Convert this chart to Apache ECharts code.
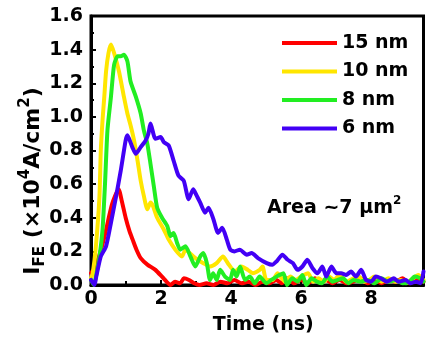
<!DOCTYPE html>
<html>
<head>
<meta charset="utf-8">
<script src="https://cdn.jsdelivr.net/npm/echarts@6/dist/echarts.min.js"></script>
<style>
html,body{margin:0;padding:0;background:#fff;}
#chart{width:436px;height:341px;}
</style>
</head>
<body>
<div id="chart"></div>
<script>
// Series names
var seriesNames = ['15 nm', '10 nm', '8 nm', '6 nm'];
// Tick labels
var xTicks = [0, 2, 4, 6, 8];
var yTicks = ['0.0','0.2','0.4','0.6','0.8','1.0','1.2','1.4','1.6'];

// [time (ns), I_FE (x10^4 A/cm^2)]
var red15 = [[0,0.07],[0.1,0.1],[0.23,0.17],[0.4,0.3],[0.6,0.48],[0.79,0.57],[0.88,0.5],[0.99,0.40],[1.1,0.32],[1.19,0.27],[1.3,0.21],[1.42,0.16],[1.62,0.12],[1.84,0.09],[2.07,0.04],[2.27,0.0],[2.4,0.02],[2.55,0.01],[2.65,0.04],[2.8,0.03],[2.95,0.01],[3.1,0.0],[3.3,0.01],[3.5,0.0],[3.7,0.02],[3.9,0.01],[4.1,0.03],[4.3,0.01],[4.5,0.02],[4.7,0.0],[4.9,0.02],[5.1,0.01],[5.3,0.03],[5.45,0.01],[5.6,0.04],[5.8,0.01],[6.0,0.03],[6.2,0.01],[6.4,0.04],[6.55,0.02],[6.7,0.03],[6.9,0.01],[7.1,0.03],[7.3,0.01],[7.5,0.02],[7.7,0.04],[7.9,0.01],[8.1,0.03],[8.3,0.01],[8.5,0.03],[8.7,0.02],[8.9,0.04],[9.1,0.01],[9.3,0.03],[9.5,0.02]];

var yellow10 = [[0,0.04],[0.05,0.07],[0.14,0.23],[0.24,0.52],[0.28,0.8],[0.33,0.98],[0.38,1.12],[0.43,1.27],[0.5,1.38],[0.57,1.43],[0.66,1.38],[0.8,1.27],[0.94,1.12],[1.04,1.02],[1.13,0.95],[1.23,0.86],[1.33,0.74],[1.42,0.62],[1.51,0.53],[1.61,0.45],[1.70,0.49],[1.77,0.47],[1.89,0.40],[2.08,0.33],[2.22,0.27],[2.41,0.21],[2.60,0.17],[2.70,0.21],[2.92,0.17],[3.05,0.15],[3.21,0.13],[3.40,0.11],[3.59,0.13],[3.77,0.17],[3.91,0.13],[4.11,0.08],[4.30,0.11],[4.48,0.09],[4.62,0.07],[4.82,0.09],[4.9,0.11],[5.01,0.03],[5.19,0.03],[5.33,0.07],[5.45,0.04],[5.55,0.02],[5.7,0.05],[5.85,0.03],[6.0,0.05],[6.2,0.07],[6.35,0.02],[6.5,0.04],[6.65,0.02],[6.8,0.05],[6.95,0.03],[7.1,0.06],[7.3,0.02],[7.5,0.04],[7.65,0.05],[7.8,0.02],[7.95,0.03],[8.1,0.05],[8.3,0.02],[8.5,0.04],[8.7,0.02],[8.85,0.03],[9.0,0.01],[9.2,0.04],[9.35,0.06],[9.5,0.03]];

var green8 = [[0,0.03],[0.08,0.0],[0.14,0.05],[0.25,0.18],[0.33,0.33],[0.4,0.6],[0.47,0.92],[0.57,1.12],[0.66,1.31],[0.76,1.36],[0.85,1.36],[0.94,1.37],[1.04,1.33],[1.13,1.21],[1.28,1.12],[1.42,1.02],[1.51,0.92],[1.61,0.84],[1.70,0.72],[1.80,0.58],[1.89,0.46],[2.03,0.40],[2.18,0.35],[2.27,0.29],[2.36,0.31],[2.46,0.25],[2.55,0.21],[2.70,0.23],[2.84,0.17],[2.98,0.11],[3.12,0.17],[3.21,0.19],[3.31,0.13],[3.40,0.03],[3.49,0.07],[3.59,0.03],[3.69,0.09],[3.83,0.05],[3.97,0.03],[4.06,0.09],[4.16,0.05],[4.26,0.11],[4.40,0.03],[4.54,0.05],[4.68,0.01],[4.82,0.05],[5.01,0.01],[5.15,0.03],[5.30,0.05],[5.39,0.06],[5.5,0.07],[5.6,0.0],[5.75,0.04],[5.9,0.02],[6.04,0.06],[6.15,0.0],[6.3,0.04],[6.45,0.02],[6.6,0.01],[6.75,0.05],[6.9,0.02],[7.05,0.03],[7.2,0.04],[7.35,0.01],[7.5,0.03],[7.7,0.02],[7.9,0.03],[8.1,0.01],[8.3,0.04],[8.5,0.02],[8.7,0.03],[8.9,0.01],[9.1,0.02],[9.25,0.05],[9.4,0.04],[9.5,0.02]];

var blue6 = [[0,0.03],[0.1,0.0],[0.15,0.05],[0.28,0.17],[0.43,0.23],[0.57,0.37],[0.71,0.52],[0.85,0.68],[0.99,0.86],[1.04,0.89],[1.18,0.82],[1.28,0.78],[1.42,0.82],[1.56,0.86],[1.64,0.90],[1.70,0.96],[1.84,0.87],[1.99,0.88],[2.08,0.85],[2.22,0.83],[2.36,0.74],[2.50,0.65],[2.65,0.62],[2.79,0.51],[2.92,0.57],[3.0,0.54],[3.12,0.49],[3.26,0.43],[3.36,0.46],[3.50,0.39],[3.63,0.31],[3.75,0.34],[3.88,0.27],[3.98,0.21],[4.1,0.20],[4.25,0.21],[4.45,0.18],[4.59,0.19],[4.77,0.16],[5.02,0.13],[5.18,0.12],[5.30,0.14],[5.47,0.18],[5.62,0.15],[5.77,0.13],[5.90,0.09],[6.04,0.11],[6.18,0.15],[6.33,0.10],[6.47,0.07],[6.61,0.11],[6.72,0.05],[6.87,0.11],[7.01,0.07],[7.15,0.07],[7.29,0.06],[7.43,0.08],[7.57,0.05],[7.72,0.09],[7.86,0.03],[8.00,0.02],[8.14,0.05],[8.28,0.04],[8.45,0.02],[8.65,0.04],[8.79,0.02],[8.99,0.03],[9.13,0.01],[9.28,0.02],[9.42,0.01],[9.5,0.08]];

var colors = ['#ff0000', '#ffe600', '#22ee22', '#4200f5'];
var seriesData = [red15, yellow10, green8, blue6];

var FONT = 'DejaVu Sans';
var chart = echarts.init(document.getElementById('chart'), null, {renderer: 'canvas'});

var series = seriesNames.map(function (n, i) {
  return {
    name: n,
    type: 'line',
    data: seriesData[i],
    showSymbol: false,
    smooth: 0.2,
    lineStyle: {width: 4, color: colors[i], join: 'round', cap: 'round'},
    itemStyle: {color: colors[i]},
    z: 2 + i,
    animation: false
  };
});

var option = {
  animation: false,
  backgroundColor: '#fff',
  grid: {left: 91, right: 12.5, top: 16, bottom: 56, show: true, borderColor: '#000', borderWidth: 3, backgroundColor: 'transparent'},
  legend: {
    data: seriesNames,
    orient: 'vertical',
    left: 282,
    top: 31,
    padding: 0,
    icon: 'rect',
    itemWidth: 55,
    itemHeight: 4,
    itemGap: 4.5,
    itemStyle: {borderWidth: 0},
    itemTextGap: 6,
    textStyle: {fontFamily: FONT, fontWeight: 'bold', fontSize: 19, color: '#000', lineHeight: 24}
  },
  xAxis: {
    type: 'value', min: 0, max: 9.5, interval: 2,
    name: 'Time (ns)', nameLocation: 'middle', nameGap: 31,
    nameTextStyle: {fontFamily: FONT, fontWeight: 'bold', fontSize: 19, color: '#000', padding: [0, 0, 0, 12]},
    axisLine: {show: true, lineStyle: {color: '#000', width: 3}},
    axisTick: {show: true, inside: true, length: 5, lineStyle: {color: '#000', width: 2}},
    minorTick: {show: true, splitNumber: 2, length: 4, lineStyle: {color: '#000', width: 2}},
    splitLine: {show: false},
    axisLabel: {
      fontFamily: FONT, fontWeight: 'bold', fontSize: 19, color: '#000', margin: 5,
      showMaxLabel: false,
      formatter: function (v) { return xTicks.indexOf(v) >= 0 ? String(v) : ''; }
    }
  },
  yAxis: {
    type: 'value', min: 0, max: 1.6, interval: 0.2,
    axisLine: {show: true, lineStyle: {color: '#000', width: 3}},
    axisTick: {show: true, inside: true, length: 5, lineStyle: {color: '#000', width: 2}},
    minorTick: {show: true, splitNumber: 2, length: 3, lineStyle: {color: '#000', width: 2}},
    splitLine: {show: false},
    axisLabel: {
      fontFamily: FONT, fontWeight: 'bold', fontSize: 19, color: '#000', margin: 8,
      formatter: function (v) { return yTicks[Math.round(v / 0.2)]; }
    }
  },
  graphic: [
    {
      type: 'text', x: 33, y: 181, rotation: Math.PI / 2, z: 10,
      style: {
        text: '{m|I}{s|FE}{m| (×10}{p|4}{m|A/cm}{p|2}{m|)}',
        align: 'center', verticalAlign: 'middle',
        fill: '#000',
        rich: {
          m: {fontFamily: FONT, fontWeight: 'bold', fontSize: 22, lineHeight: 30, verticalAlign: 'middle'},
          s: {fontFamily: FONT, fontWeight: 'bold', fontSize: 15, lineHeight: 30, verticalAlign: 'bottom'},
          p: {fontFamily: FONT, fontWeight: 'bold', fontSize: 15, lineHeight: 30, verticalAlign: 'top'}
        }
      }
    },
    {
      type: 'text', x: 267, y: 208, z: 10,
      style: {
        text: '{a|Area ~7 μm}{p|2}',
        align: 'left', verticalAlign: 'middle',
        fill: '#000',
        rich: {
          a: {fontFamily: FONT, fontWeight: 'bold', fontSize: 19, lineHeight: 26, verticalAlign: 'middle'},
          p: {fontFamily: FONT, fontWeight: 'bold', fontSize: 12, lineHeight: 26, verticalAlign: 'top'}
        }
      }
    }
  ],
  series: series
};
chart.setOption(option);
</script>
</body>
</html>
